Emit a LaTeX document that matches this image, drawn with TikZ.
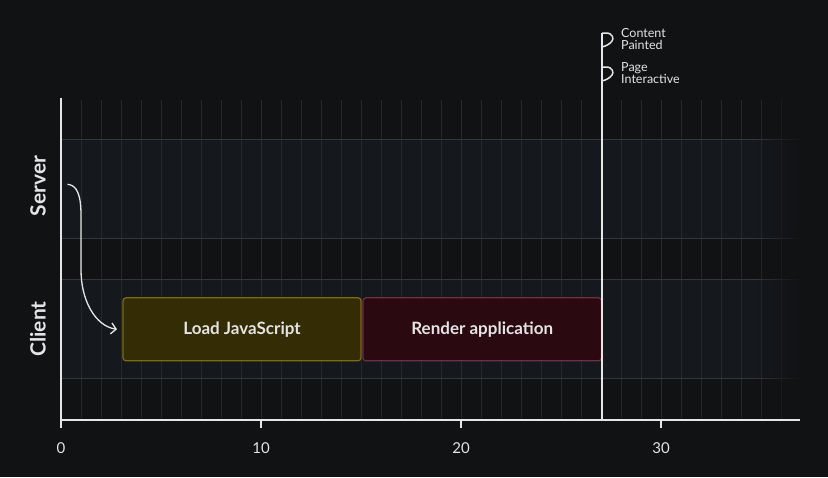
\documentclass[tikz,border=0pt]{standalone}
\usepackage{fontspec}
\setmainfont{Lato}
\usetikzlibrary{arrows.meta,fadings}
\definecolor{bgc}{HTML}{111214}
\definecolor{lanec}{HTML}{15181D}
\definecolor{minorc}{HTML}{24272B}
\definecolor{majorc}{HTML}{272C32}
\definecolor{hlinec}{HTML}{33373D}
\definecolor{axisc}{HTML}{E6E6E6}
\definecolor{textc}{HTML}{E4E4E4}
\definecolor{jsfill}{HTML}{332C05}
\definecolor{jsdraw}{HTML}{7F6C0E}
\definecolor{rdfill}{HTML}{2A0910}
\definecolor{rddraw}{HTML}{6E3042}
\tikzset{
  minorline/.style={draw=minorc, line width=1pt},
  majorline/.style={draw=majorc, line width=1pt},
  laneline/.style={draw=hlinec, line width=1pt},
  axisline/.style={draw=axisc, line width=2.5pt},
  ticklbl/.style={text=textc, font=\fontsize{15}{17}\selectfont, anchor=center},
  lanelbl/.style={text=textc, font=\bfseries\fontsize{21}{23}\selectfont, rotate=90, anchor=center},
  taskbox/.style={rounded corners=3pt, line width=1.2pt, minimum height=63pt, text=textc,
    font=\bfseries\fontsize{17}{19}\selectfont, inner sep=0pt},
  flagline/.style={draw=axisc, line width=1.5pt},
  flaglbl/.style={text=textc, font=\fontsize{12.5}{12}\selectfont, anchor=west, align=left, inner sep=0pt},
}
\begin{document}
\begin{tikzpicture}[x=1pt,y=-1pt]
\useasboundingbox (0,0) rectangle (828,477);
\fill[bgc] (0,0) rectangle (828,477);
% lanes
\fill[lanec] (61,139) rectangle (800,238);
\fill[lanec] (61,279) rectangle (800,378);
% vertical grid
\foreach \i in {1,...,36} {
  \draw[minorline] ({61+20*\i},100) -- ({61+20*\i},418);
}
\foreach \i in {10,20,30} {
  \draw[majorline] ({61+20*\i},100) -- ({61+20*\i},418);
}
% lane lines
\foreach \yy in {139,238,279,378} {
  \draw[laneline] (61,\yy) -- (800,\yy);
}
% fade on the right
\fill[bgc, path fading=west] (755,96) rectangle (802,417);
% axes
\draw[axisline] (61,98) -- (61,421.25);
\draw[axisline] (59.75,420) -- (800,420);
\foreach \v in {0,10,20,30} {
  \draw[axisc, line width=2pt] ({61+20*\v},420) -- ({61+20*\v},428);
  \node[ticklbl] (t\v) at ({61+20*\v},448) {\v};
}
% lane labels
\node[lanelbl] (srv) at (38,186) {Server};
\node[lanelbl] (cli) at (38,329) {Client};
% tasks
\node[taskbox, fill=jsfill, draw=jsdraw, minimum width=238pt] (js) at (242,329.3) {Load JavaScript};
\node[taskbox, fill=rdfill, draw=rddraw, minimum width=238.5pt] (rd) at (482.2,329.3) {Render application};
% marker line
\coordinate (mtop) at (601.5,33);
\coordinate (mbot) at (601.5,420);
\draw[axisc, line width=2pt] (mtop) -- (mbot);
\draw[flagline] (602,33) -- (606,33) .. controls (613,33) and (614,39) .. (612,41) .. controls (610,44) and (606,46) .. (602,47);
\draw[flagline] (602,67) -- (606,67) .. controls (613,67) and (614,73) .. (612,75) .. controls (610,78) and (606,80) .. (602,81);
\node[flaglbl] (cp) at (621,39) {Content\\Painted};
\node[flaglbl] (pi) at (621,73) {Page\\Interactive};
% arrow
\coordinate (astart) at (67.5,184.3);
\draw[axisc, line width=1.3pt, -{Straight Barb[length=5pt,width=11pt]}]
  (astart) .. controls (77,185) and (81,195) .. (81,215)
  -- (81,270) .. controls (81,300) and (95,326) .. (js.west -| 117,0);
\end{tikzpicture}
\end{document}
